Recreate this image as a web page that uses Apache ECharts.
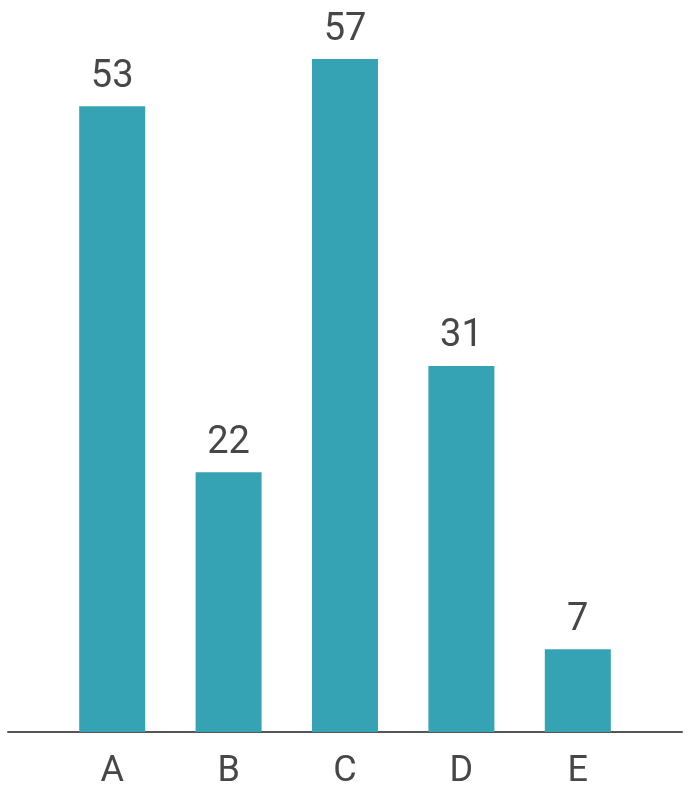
<!DOCTYPE html>
<html>
<head>
<meta charset="utf-8">
<script src="https://cdn.jsdelivr.net/npm/echarts@6/dist/echarts.min.js"></script>
<style>
  html, body { margin: 0; padding: 0; background: #fff; }
  #chart { width: 690px; height: 800px; }
</style>
</head>
<body>
<div id="chart"></div>
<script>
var categories = ['A', 'B', 'C', 'D', 'E'];
var values = [53, 22, 57, 31, 7];

var font = '"Liberation Sans Narrow", "Roboto", sans-serif';
var textColor = '#474747';

var chart = echarts.init(document.getElementById('chart'));
chart.setOption({
    animation: false,
    grid: [
        // bars
        { left: 54, right: 54, top: 59, bottom: 68 },
        // the long base line
        { left: 8, right: 8, top: 59, bottom: 68 }
    ],
    xAxis: [
        {
            gridIndex: 0,
            type: 'category',
            data: categories,
            axisLine: { show: false },
            axisTick: { show: false },
            axisLabel: {
                margin: 22,
                fontSize: 36,
                fontFamily: font,
                color: textColor
            }
        },
        {
            gridIndex: 1,
            type: 'value',
            min: 0,
            max: 1,
            axisLine: { show: true, lineStyle: { color: '#555', width: 2 } },
            axisTick: { show: false },
            axisLabel: { show: false },
            splitLine: { show: false }
        }
    ],
    yAxis: [
        { gridIndex: 0, type: 'value', min: 0, max: 57, show: false },
        { gridIndex: 1, type: 'value', min: 0, max: 1, show: false }
    ],
    series: [{
        type: 'bar',
        xAxisIndex: 0,
        yAxisIndex: 0,
        data: values,
        barWidth: 66,
        itemStyle: { color: '#35a3b3' },
        label: {
            show: true,
            position: 'top',
            distance: 10,
            fontSize: 38,
            fontFamily: font,
            color: textColor
        }
    }]
});
</script>
</body>
</html>
